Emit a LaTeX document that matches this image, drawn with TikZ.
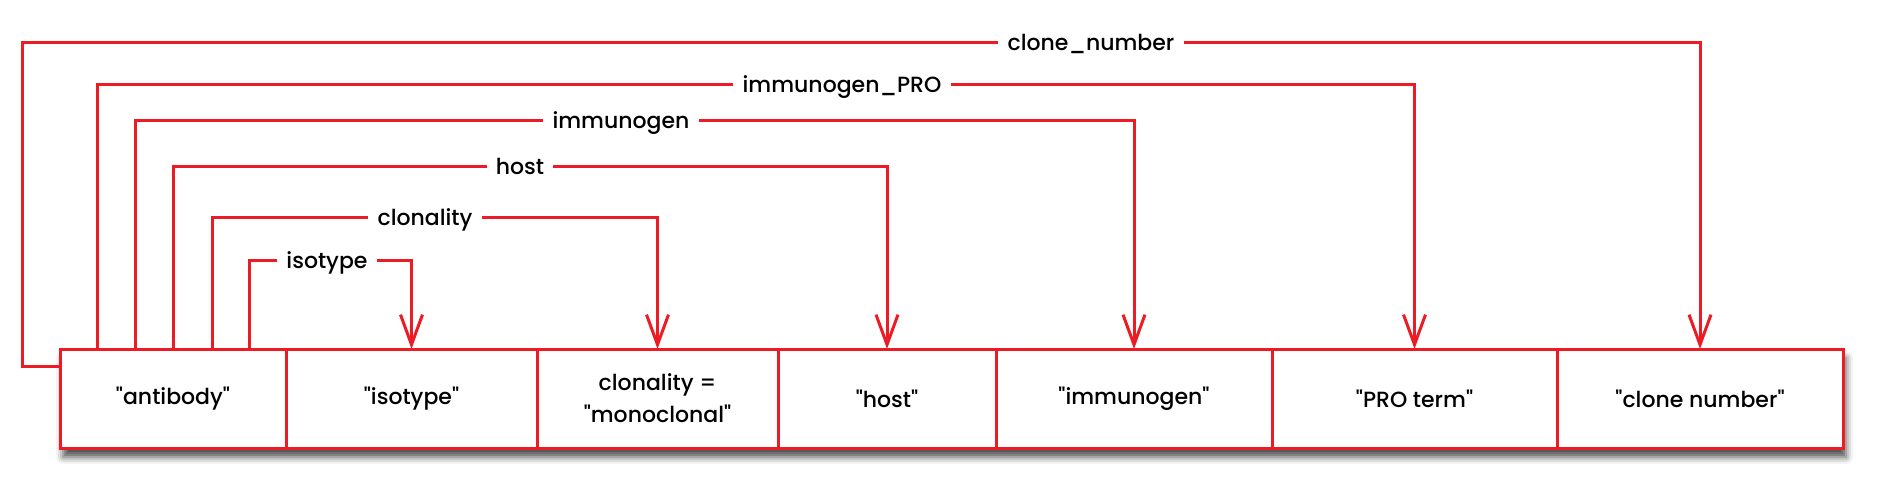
\documentclass[tikz,border=0pt]{standalone}
\usepackage{fontspec}
\setmainfont{Poppins}[UprightFont=* Medium, Ligatures=TeXOff]
\usetikzlibrary{arrows.meta,shadows.blur}
\definecolor{lnred}{RGB}{237,28,36}
\begin{document}
\begin{tikzpicture}[x=1pt,y=-1pt,
  cell/.style={draw=lnred, line width=3pt, inner sep=0pt, outer sep=0pt,
    minimum height=99pt, anchor=north west, align=center,
    font=\fontsize{22}{32}\selectfont},
  lbl/.style={inner xsep=9pt, inner ysep=0pt, text height=16pt, text depth=0pt,
    font=\fontsize{22}{26}\selectfont},
  conn/.style={draw=lnred, line width=3pt, line join=miter},
  arr/.style={conn, -{Straight Barb[length=30pt,width=22pt]}}]
\useasboundingbox (0,0) rectangle (1878,489);
% shadow under the row of cells
\path[fill=white, blur shadow={shadow xshift=3pt, shadow yshift=-9pt,
  shadow blur radius=7pt, shadow opacity=70}] (60,349) rectangle (1843,448);
% cells
\node[cell, minimum width=226pt] (ab)  at (60,349)   {"antibody"};
\node[cell, minimum width=251pt] (iso) at (286,349)  {"isotype"};
\node[cell, minimum width=241pt] (clo) at (537,349)  {clonality =\\"monoclonal"};
\node[cell, minimum width=218pt] (hst) at (778,349)  {"host"};
\node[cell, minimum width=276pt] (imm) at (996,349)  {"immunogen"};
\node[cell, minimum width=285pt] (pro) at (1272,349) {"PRO term"};
\node[cell, minimum width=286pt] (cln) at (1557,349) {"clone number"};
% labels
\node[lbl] (liso) at (327,260)  {isotype};
\node[lbl] (lclo) at (425,217)  {clonality};
\node[lbl] (lhst) at (520,167)  {host};
\node[lbl] (limm) at (621,121)  {immunogen};
\node[lbl] (lpro) at (842,85)   {immunogen\_PRO};
\node[lbl] (lcln) at (1091,43)  {clone\_number};
% connectors
\draw[arr] ([xshift=189pt]ab.north west) |- (liso) -| (iso.north);
\draw[arr] ([xshift=152pt]ab.north west) |- (lclo) -| (clo.north);
\draw[arr] ([xshift=113pt]ab.north west) |- (lhst) -| (hst.north);
\draw[arr] ([xshift=75pt]ab.north west)  |- (limm) -| (imm.north);
\draw[arr] ([xshift=37pt]ab.north west)  |- (lpro) -| (pro.north);
\draw[arr] ([yshift=-17pt]ab.north west) -- ++(-38,0) |- (lcln) -| (cln.north);
\end{tikzpicture}
\end{document}
